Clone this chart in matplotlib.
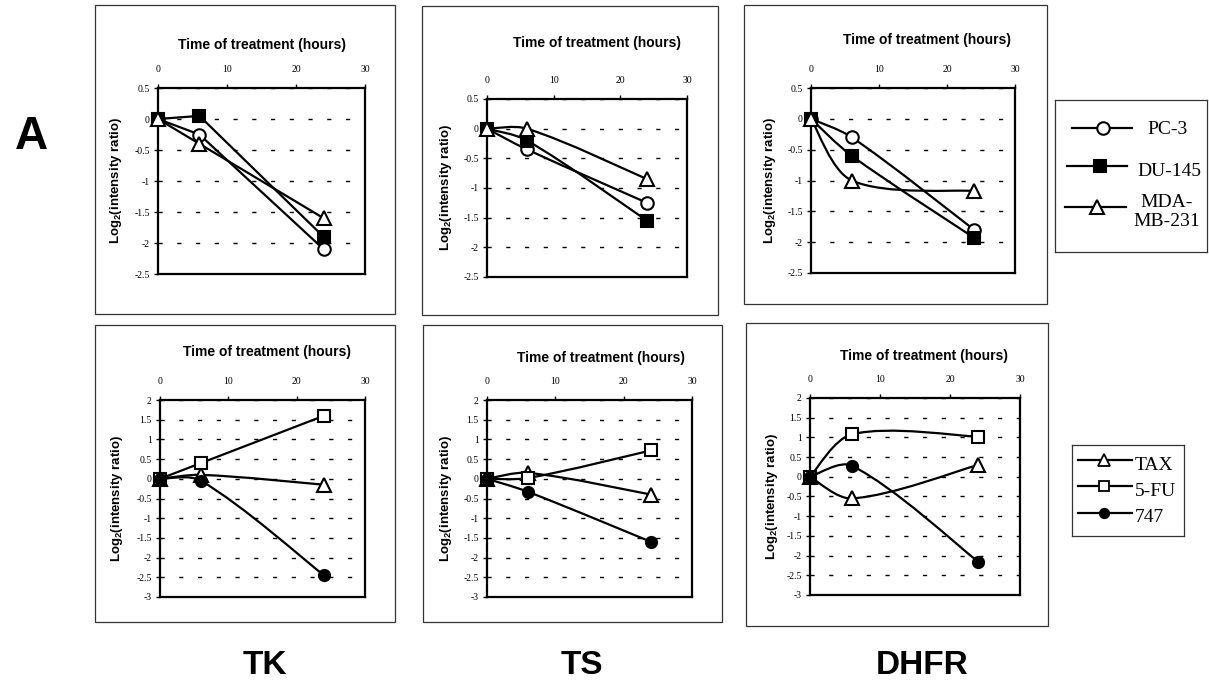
import numpy as np
import matplotlib
matplotlib.use("Agg")
import matplotlib.pyplot as plt
from matplotlib.path import Path
from matplotlib.patches import PathPatch, Rectangle
from matplotlib.ticker import FormatStrFormatter

plt.rcParams['axes.unicode_minus'] = False
plt.rcParams['mathtext.default'] = 'regular'

W, H = 1209, 684

# time points (hours)
hours = [0, 6, 24]

# top row: cell lines
cell_lines = ['PC-3', 'DU-145', 'MDA-\nMB-231']
tk_pc3 = [0, -0.25, -2.1]
tk_du145 = [0, 0.05, -1.9]
tk_mda = [0, -0.4, -1.6]
ts_pc3 = [0, -0.35, -1.25]
ts_du145 = [0, -0.2, -1.55]
ts_mda = [0, 0.0, -0.85]
dhfr_pc3 = [0, -0.3, -1.8]
dhfr_du145 = [0, -0.6, -1.93]
dhfr_mda = [0, -1.0, -1.17]

# bottom row: drugs
drugs = ['TAX', '5-FU', '747']
tk_tax = [0, 0.1, -0.15]
tk_5fu = [0, 0.4, 1.6]
tk_747 = [0, -0.05, -2.45]
ts_tax = [0, 0.15, -0.4]
ts_5fu = [0, 0.02, 0.72]
ts_747 = [0, -0.33, -1.6]
dhfr_tax = [0, -0.55, 0.3]
dhfr_5fu = [0, 1.08, 1.02]
dhfr_747 = [0, 0.28, -2.15]

genes = ['TK', 'TS', 'DHFR']

top_y = np.arange(-2.5, 0.51, 0.5)
bot_y = np.arange(-3, 2.01, 0.5)

top_style = [dict(marker='o', mfc='white', ms=9),
             dict(marker='s', mfc='black', ms=8),
             dict(marker='^', mfc='white', ms=10)]
bot_style = [dict(marker='^', mfc='white', ms=9.5),
             dict(marker='s', mfc='white', ms=8.5),
             dict(marker='o', mfc='black', ms=8)]


def smooth_path(x, y, sx, sy):
    # excel-ish smoothed line: bezier segments, tangents scaled by screen length
    pts = np.column_stack([x, y]).astype(float)
    scr = pts * [sx, sy]
    n = len(pts)
    seg = np.hypot(*np.diff(scr, axis=0).T)
    verts = [pts[0]]
    codes = [Path.MOVETO]
    for i in range(n - 1):
        p1, p2 = pts[i], pts[i + 1]
        if i == 0:
            c1 = p1 + (p2 - p1) / 6
        else:
            f = seg[i] / (seg[i - 1] + seg[i])
            c1 = p1 + (p2 - pts[i - 1]) * f / 3
        if i + 2 >= n:
            c2 = p2 - (p2 - p1) / 6
        else:
            f = seg[i] / (seg[i] + seg[i + 1])
            c2 = p2 - (pts[i + 2] - p1) * f / 3
        verts += [c1, c2, p2]
        codes += [Path.CURVE4] * 3
    return Path(verts, codes)


def rect(l, t, r, b):
    return [l / W, 1 - b / H, (r - l) / W, (b - t) / H]


fig = plt.figure(figsize=(W / 100, H / 100), dpi=100)

# (frame, axes box, title centre, ylabel x, series, yticks, styles, smooth)
panels = [
    ((95, 5, 395, 314), (158, 88, 365, 274), (262, 45), 116,
     [tk_pc3, tk_du145, tk_mda], top_y, top_style, False),
    ((422, 6, 718, 315), (487, 99, 687, 277), (597, 43), 446,
     [ts_pc3, ts_du145, ts_mda], top_y, top_style, True),
    ((744, 5, 1047, 304), (811, 88, 1015, 273), (927, 40), 770,
     [dhfr_pc3, dhfr_du145, dhfr_mda], top_y, top_style, True),
    ((95, 325, 395, 622), (160, 400, 365, 597), (267, 352), 117,
     [tk_tax, tk_5fu, tk_747], bot_y, bot_style, True),
    ((423, 325, 722, 622), (487, 400, 692, 597), (601, 358), 446,
     [ts_tax, ts_5fu, ts_747], bot_y, bot_style, True),
    ((746, 323, 1048, 626), (810, 398, 1020, 595), (924, 356), 772,
     [dhfr_tax, dhfr_5fu, dhfr_747], bot_y, bot_style, True),
]

for frame, box, tpos, ylx, series, yt, styles, smooth in panels:
    fig.add_artist(Rectangle((frame[0] / W, 1 - frame[3] / H),
                             (frame[2] - frame[0]) / W, (frame[3] - frame[1]) / H,
                             transform=fig.transFigure, fill=False,
                             ec='#333333', lw=0.9))
    ax = fig.add_axes(rect(*box))
    ax.set_xlim(0, 30)
    ax.set_ylim(yt[0], yt[-1])
    ax.set_xticks([0, 10, 20, 30])
    ax.set_yticks(yt)
    ax.yaxis.set_major_formatter(FormatStrFormatter('%g'))
    ax.xaxis.tick_top()
    for sp in ax.spines.values():
        sp.set_linewidth(1.6)
    ax.tick_params(axis='x', direction='out', length=3, width=1, pad=7,
                   labelsize=7, labelfontfamily='Liberation Serif')
    ax.tick_params(axis='y', direction='out', length=3, width=1, pad=3,
                   labelsize=7, labelfontfamily='Liberation Serif')
    ax.grid(axis='y', color='black', lw=1, ls=(0, (3, 10.5)))
    ax.set_axisbelow(True)
    sx = (box[2] - box[0]) / 30.0
    sy = (box[3] - box[1]) / (yt[-1] - yt[0])
    for vals, st in zip(series, styles):
        if smooth:
            ax.add_patch(PathPatch(smooth_path(hours, vals, sx, sy), fill=False,
                                   ec='black', lw=1.6, zorder=3))
            ax.plot(hours, vals, ls='none', mec='black', mew=1.5, zorder=4,
                    clip_on=False, **st)
        else:
            ax.plot(hours, vals, color='black', lw=1.6, mec='black', mew=1.5,
                    zorder=3, clip_on=False, **st)
    fig.text(tpos[0] / W, 1 - tpos[1] / H, 'Time of treatment (hours)',
             ha='center', va='center', fontsize=10, fontweight='bold',
             family='Liberation Sans')
    fig.text(ylx / W, 1 - (box[1] + box[3]) / 2 / H, 'Log$_2$(intensity ratio)',
             rotation=90, ha='center', va='center', fontsize=9.5,
             fontweight='bold', family='Liberation Sans')

# legends drawn in pixel space
def legend_box(l, t, r, b):
    lax = fig.add_axes(rect(l, t, r, b))
    lax.set_xlim(l, r)
    lax.set_ylim(b, t)
    lax.set_xticks([])
    lax.set_yticks([])
    for sp in lax.spines.values():
        sp.set_linewidth(0.9)
        sp.set_color('#333333')
    return lax

lax = legend_box(1055, 100, 1207, 252)
top_rows = [(128, 1072, 1132, 1103, 1147, 129, 'left'),
            (166, 1067, 1127, 1100, 1137, 172, 'left'),
            (207, 1065, 1126, 1097, 1167, 212, 'center')]
for (ly, x0, x1, mx, tx, ty, ha), name, st in zip(top_rows, cell_lines, top_style):
    lax.plot([x0, x1], [ly, ly], color='black', lw=1.6)
    lax.plot([mx], [ly], ls='none', mec='black', mew=1.5, **st)
    lax.text(tx, ty, name, ha=ha, va='center', fontsize=14,
             family='Liberation Serif', linespacing=1.2)

lax2 = legend_box(1072, 445, 1184, 536)
bot_rows = [(460, 465), (486, 492), (513, 518)]
for (ly, ty), name, st in zip(bot_rows, drugs, bot_style):
    lax2.plot([1078, 1132], [ly, ly], color='black', lw=1.6)
    st2 = dict(st)
    st2['ms'] = st['ms'] * 0.85
    lax2.plot([1104], [ly], ls='none', mec='black', mew=1.3, **st2)
    lax2.text(1135, ty, name, ha='left', va='center', fontsize=14,
              family='Liberation Serif')

fig.text(31 / W, 1 - 137 / H, 'A', ha='center', va='center', fontsize=33,
         fontweight='bold', family='Liberation Sans')
for name, cx in zip(genes, [265, 582, 922]):
    fig.text(cx / W, 1 - 665 / H, name, ha='center', va='center', fontsize=24,
             fontweight='bold', family='Liberation Sans')

fig.savefig('out.png', dpi=100)
